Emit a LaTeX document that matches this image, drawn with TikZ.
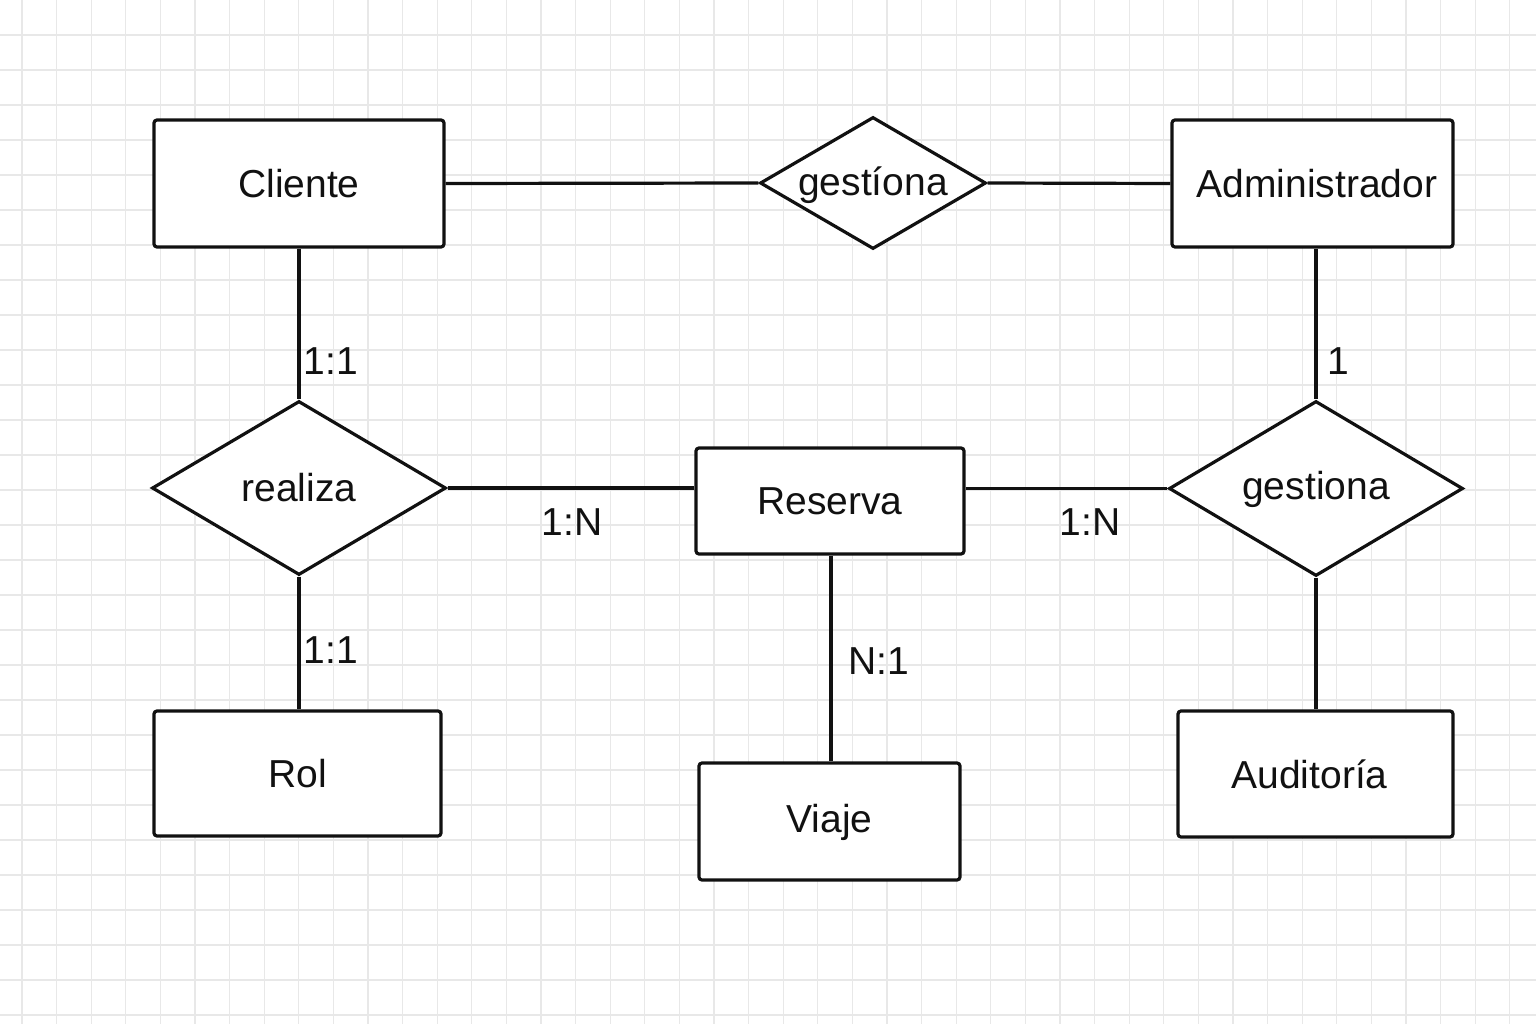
\documentclass[tikz,border=0pt]{standalone}
\usepackage{fontspec}
\setmainfont{Liberation Sans}
\usetikzlibrary{shapes.geometric}
\definecolor{gridc}{HTML}{E8E8E8}
\definecolor{ink}{HTML}{111111}
\tikzset{
  ent/.style={draw=ink, line width=3.2pt, rounded corners=3pt, fill=white, inner sep=0pt, text=ink,
    font=\fontsize{39}{44}\selectfont},
  rel/.style 2 args={draw=ink, line width=3.2pt, shape=diamond, fill=white, inner sep=0pt,
    label={[text=ink, yshift=#2, font=\fontsize{39}{44}\selectfont]center:#1}},
  conn/.style={draw=ink, line width=3.2pt},
  card/.style={text=ink, inner sep=0pt, font=\fontsize{39}{44}\selectfont}
}
\begin{document}
\begin{tikzpicture}[x=1pt,y=-1pt]
\useasboundingbox (0,0) rectangle (1536,1024);
\fill[white] (0,0) rectangle (1536,1024);
\foreach \i in {0,...,44} {\draw[gridc, line width=1.2pt] ({22+34.6*\i},0) -- ({22+34.6*\i},1024);}
\foreach \j in {1,...,29} {\draw[gridc, line width=1.2pt] (0,{35*\j}) -- (1536,{35*\j});}

% entities
\node[ent, minimum width=290pt, minimum height=127pt] (cli) at (299,183.5) {Cliente};
\node[ent, minimum width=281pt, minimum height=127pt, text width=281pt, align=center] (adm) at (1312.5,183.5) {\hspace*{9pt}Administrador};
\node[ent, minimum width=268pt, minimum height=106pt] (res) at (830,501) {Reserva};
\node[ent, minimum width=287pt, minimum height=125pt] (rol) at (297.5,773.5) {Rol};
\node[ent, minimum width=261pt, minimum height=117pt, text height=25pt, text depth=3pt] (via) at (829.5,821.5) {Viaje};
\node[ent, minimum width=275pt, minimum height=126pt, text width=275pt, align=center] (aud) at (1315.5,774) {Auditoría\hspace*{12pt}};

% relationships
\node[rel={gestíona}{-2pt}, minimum width=226pt, minimum height=132pt] (g1) at (873,183) {};
\node[rel={realiza}{0pt}, minimum width=294pt, minimum height=174pt] (rea) at (299,488) {};
\node[rel={gestiona}{-1pt}, minimum width=294pt, minimum height=175pt] (ges) at (1316,488.5) {};

% connectors
\draw[conn] (cli.east) -- (g1.west);
\draw[conn] (g1.east) -- (adm.west);
\draw[conn] (cli.south) -- (rea.north);
\draw[conn] (rea.south) -- (rea.south |- rol.north);
\draw[conn] (rea.east) -- (res.west |- rea.east);
\draw[conn] (res.east |- ges.west) -- (ges.west);
\draw[conn] ([xshift=1pt]res.south) -- ([xshift=1pt]res.south |- via.north);
\draw[conn] (ges.north |- adm.south) -- (ges.north);
\draw[conn] (ges.south) -- (ges.south |- aud.north);

% cardinalities
\node[card] (c1) at (331,361) {1:1};
\node[card] (c2) at (331,650) {1:1};
\node[card] (c3) at (572,522) {1:N};
\node[card] (c4) at (1090,522) {1:N};
\node[card] (c5) at (879,661) {N:1};
\node[card] (c6) at (1338,361) {1};
\end{tikzpicture}
\end{document}
